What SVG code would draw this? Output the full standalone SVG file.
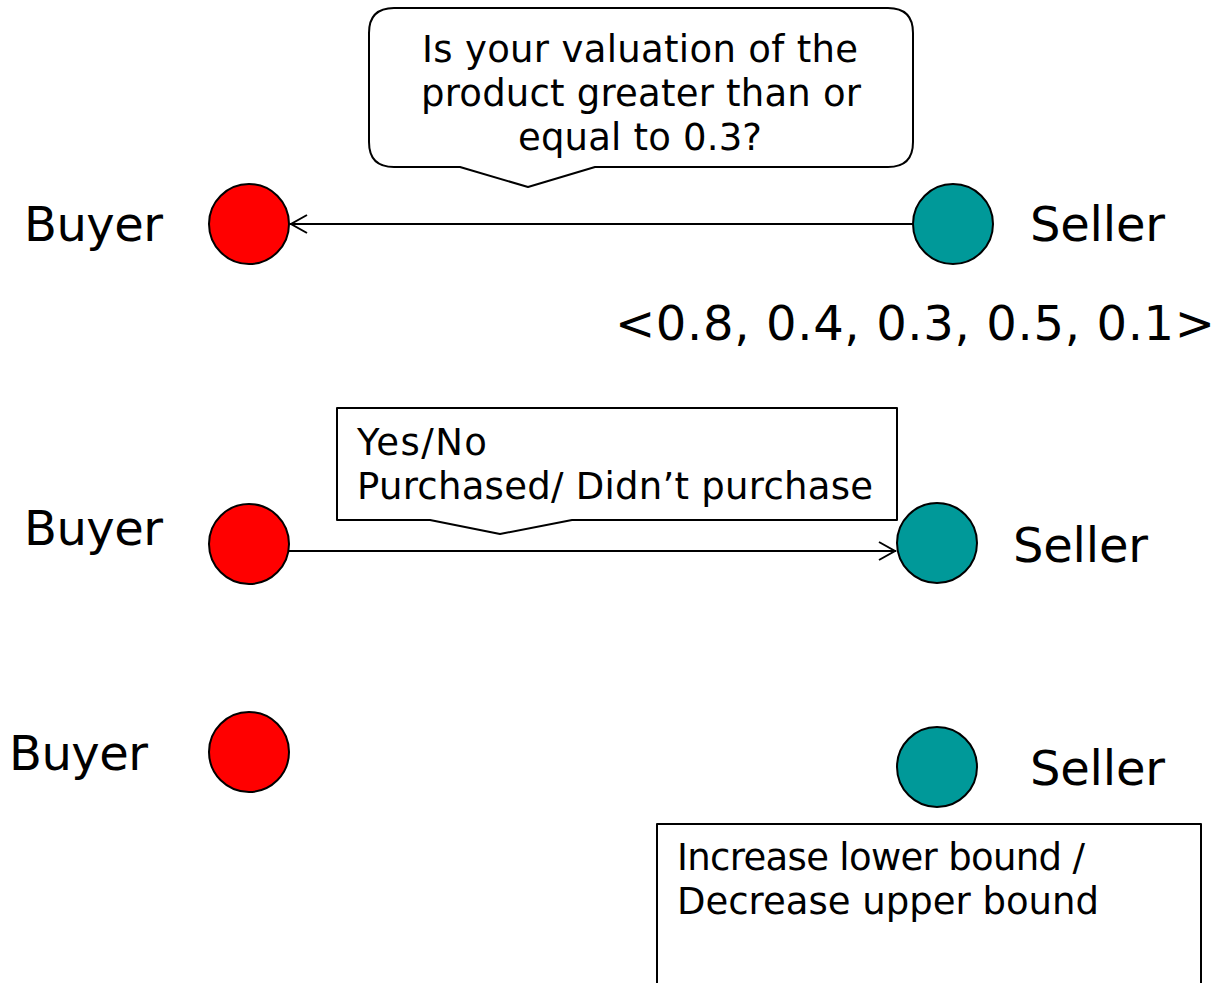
<svg xmlns="http://www.w3.org/2000/svg" width="1226" height="983" viewBox="0 0 1226 983">
  <style>
    .lbl { font-family: Verdana, "DejaVu Sans", sans-serif; font-size: 48px; fill: #000; }
    .txt { font-family: Verdana, "DejaVu Sans", sans-serif; font-size: 37px; fill: #000; }
    .buyer { fill: #ff0000; stroke: #000; stroke-width: 2; }
    .seller { fill: #009999; stroke: #000; stroke-width: 2; }
    .box { fill: #fff; stroke: #000; stroke-width: 2; stroke-linejoin: round; }
    .edge { fill: none; stroke: #000; stroke-width: 2; }
  </style>
  <defs>
    <marker id="open" viewBox="0 0 20 22" refX="19" refY="11" markerWidth="20" markerHeight="22" markerUnits="userSpaceOnUse" orient="auto">
      <path d="M2,2 L18,11 L2,20" fill="none" stroke="#000" stroke-width="2"/>
    </marker>
  </defs>

  <!-- connectors -->
  <g id="connectors">
    <line class="edge" x1="913" y1="224" x2="290" y2="224" marker-end="url(#open)"/>
    <line class="edge" x1="289" y1="551" x2="896" y2="551" marker-end="url(#open)"/>
  </g>

  <!-- row 1 -->
  <g id="query-callout">
    <path class="box" d="M394,8 H888 Q913,8 913,33 V142 Q913,167 888,167 H595 L528,187 L460,167 H394 Q369,167 369,142 V33 Q369,8 394,8 Z"/>
    <text class="txt" x="640" y="62" text-anchor="middle" textLength="436">Is your valuation of the</text>
    <text class="txt" x="641" y="106" text-anchor="middle" textLength="440">product greater than or</text>
    <text class="txt" x="640" y="150" text-anchor="middle" textLength="244">equal to 0.3?</text>
  </g>
  <g id="buyer-1">
    <circle class="buyer" cx="249" cy="224" r="40"/>
    <text class="lbl" x="24" y="241" textLength="139">Buyer</text>
  </g>
  <g id="seller-1">
    <circle class="seller" cx="953" cy="224" r="40"/>
    <text class="lbl" x="1030" y="241" textLength="135">Seller</text>
  </g>
  <g id="valuations">
    <text class="lbl" x="615" y="340" textLength="600" lengthAdjust="spacing">&lt;0.8, 0.4, 0.3, 0.5, 0.1&gt;</text>
  </g>

  <!-- row 2 -->
  <g id="reply-callout">
    <path class="box" d="M337,408 H897 V520 H572 L500,534 L430,520 H337 Z"/>
    <text class="txt" x="357" y="455" textLength="130">Yes/No</text>
    <text class="txt" x="357" y="499" textLength="516">Purchased/ Didn’t purchase</text>
  </g>
  <g id="buyer-2">
    <circle class="buyer" cx="249" cy="544" r="40"/>
    <text class="lbl" x="24" y="545" textLength="139">Buyer</text>
  </g>
  <g id="seller-2">
    <circle class="seller" cx="937" cy="543" r="40"/>
    <text class="lbl" x="1013" y="562" textLength="135">Seller</text>
  </g>

  <!-- row 3 -->
  <g id="buyer-3">
    <circle class="buyer" cx="249" cy="752" r="40"/>
    <text class="lbl" x="9" y="770" textLength="139">Buyer</text>
  </g>
  <g id="seller-3">
    <circle class="seller" cx="937" cy="767" r="40"/>
    <text class="lbl" x="1030" y="785" textLength="135">Seller</text>
  </g>
  <g id="update-box">
    <rect class="box" x="657" y="824" width="544" height="175"/>
    <text class="txt" x="677" y="870" textLength="408">Increase lower bound /</text>
    <text class="txt" x="677" y="914" textLength="422">Decrease upper bound</text>
  </g>
</svg>
